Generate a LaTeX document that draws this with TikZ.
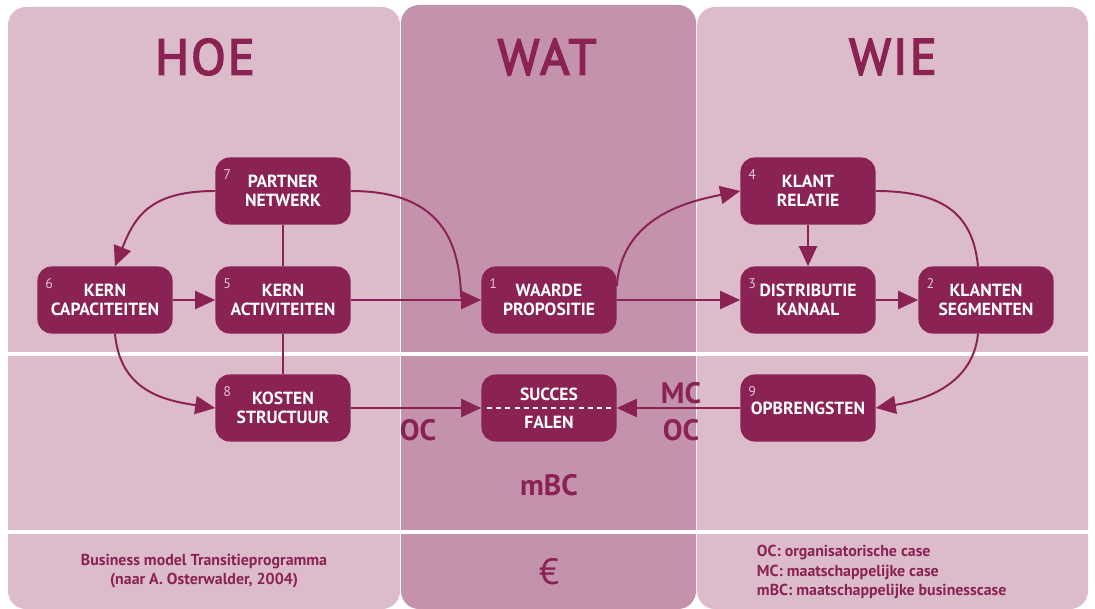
\documentclass[tikz,border=0pt]{standalone}
\usepackage{fontspec}
\setmainfont{PT Sans}
\newfontfamily\headfont[FakeBold=3, LetterSpace=4]{PT Sans}
\usetikzlibrary{arrows.meta, calc}
\definecolor{paneLight}{HTML}{DCBBCB}
\definecolor{paneMid}{HTML}{C492AC}
\definecolor{wine}{HTML}{8A2253}
\definecolor{numPink}{HTML}{E6C0D4}
\tikzstyle{arrow} = [line width=1.4pt, draw=wine, -{Triangle[length=0.5cm,width=0.45cm]}]
\tikzstyle{link} = [line width=1.4pt, draw=wine]
\tikzstyle{block} = [rectangle, rounded corners=0.35cm, minimum width=3.375cm, minimum height=1.675cm, fill=wine, text=white, align=center, inner sep=0pt, font=\fontsize{12.5}{13.8}\selectfont\bfseries]
\tikzstyle{num} = [anchor=north west, inner sep=0pt, xshift=0.2cm, yshift=-0.3cm, text=numPink, font=\fontsize{10}{10}\selectfont]
\tikzstyle{head} = [text=wine, font=\headfont\fontsize{36}{36}\selectfont]
\tikzstyle{tag} = [text=wine, font=\fontsize{21}{21}\selectfont\bfseries]
\tikzstyle{note} = [text=wine, font=\fontsize{11.3}{13.8}\selectfont\bfseries]

\begin{document}
\begin{tikzpicture}[x=0.025cm, y=-0.025cm]
	\useasboundingbox (0,0) rectangle (1095,609);
	% kolommen
	\fill[paneLight, rounded corners=0.45cm] (8,7) rectangle (400,609);
	\fill[paneMid, rounded corners=0.45cm] (401,5) rectangle (696,609);
	\fill[paneLight, rounded corners=0.45cm] (697,7) rectangle (1088,609);
	\fill[white] (0,352) rectangle (1095,356);
	\fill[white] (0,530) rectangle (1095,534);
	% koppen
	\node (hoe) [head] at (205,57) {HOE};
	\node (wat) [head] at (547,57) {WAT};
	\node (wie) [head] at (893,57) {WIE};
	% blokken
	\node (partner) [block, label={[num]north west:7}] at (283,191) {PARTNER\\NETWERK};
	\node (kerncap) [block, label={[num]north west:6}] at (105,300) {KERN\\CAPACITEITEN};
	\node (kernact) [block, label={[num]north west:5}] at (283,300) {KERN\\ACTIVITEITEN};
	\node (kosten) [block, label={[num]north west:8}] at (283,408) {KOSTEN\\STRUCTUUR};
	\node (waarde) [block, label={[num]north west:1}] at (549,300) {WAARDE\\PROPOSITIE};
	\node (succes) [block] at (549,408) {SUCCES\\[6pt]FALEN};
	\node (klant) [block, label={[num]north west:4}] at (808,191) {KLANT\\RELATIE};
	\node (distr) [block, label={[num]north west:3}] at (808,300) {DISTRIBUTIE\\KANAAL};
	\node (segment) [block, label={[num]north west:2}] at (986,300) {KLANTEN\\SEGMENTEN};
	\node (opbr) [block, label={[num]north west:9}] at (808,408) {OPBRENGSTEN};
	\draw [white, line width=1pt, dash pattern=on 3.5pt off 3pt] ($(succes.west)+(6,0)$) -- ($(succes.east)+(-6,0)$);
	% verbindingen
	\draw [link] (partner) -- (kernact);
	\draw [link] (kernact) -- (kosten);
	\draw [arrow] (kerncap) -- (kernact);
	\draw [arrow] (kernact) -- (waarde);
	\draw [arrow] (waarde) -- (distr);
	\draw [arrow] (distr) -- (segment);
	\draw [arrow] (klant) -- (distr);
	\draw [arrow] (kosten) -- (succes);
	\draw [arrow] (opbr) -- (succes);
	\draw [arrow] (partner.west) .. controls +(-65,0) and +(20,-50) .. ($(kerncap.north)+(10,0)$);
	\draw [arrow] ($(kerncap.south)+(10,0)$) .. controls +(5,55) and +(-55,-8) .. (kosten.west);
	\draw [link] (partner.east) .. controls +(95,0) and +(-2,-50) .. ($(waarde.west)+(-20,-3)$);
	\draw [arrow] ($(waarde.east)+(0,-14)$) .. controls +(5,-70) and +(-50,10) .. (klant.west);
	\draw [link] (klant.east) .. controls +(70,0) and +(-5,-50) .. ($(segment.north)+(-8,0)$);
	\draw [arrow] ($(segment.south)+(-8,0)$) .. controls +(-5,50) and +(50,-8) .. (opbr.east);
	% labels
	\node (ocLinks) [tag] at (418,430) {OC};
	\node (mc) [tag] at (681,393) {MC};
	\node (ocRechts) [tag] at (681,430) {OC};
	\node (mbc) [tag] at (549,485) {mBC};
	\node (bron) [note, align=center] at (204,571) {Business model Transitieprogramma\\(naar A. Osterwalder, 2004)};
	\node (euro) [text=wine, font=\fontsize{26}{26}\selectfont] at (549,572) {€};
	\node (legenda) [note, align=left, anchor=west] at (752,572) {OC: organisatorische case\\MC: maatschappelijke case\\mBC: maatschappelijke businesscase};
\end{tikzpicture}
\end{document}
